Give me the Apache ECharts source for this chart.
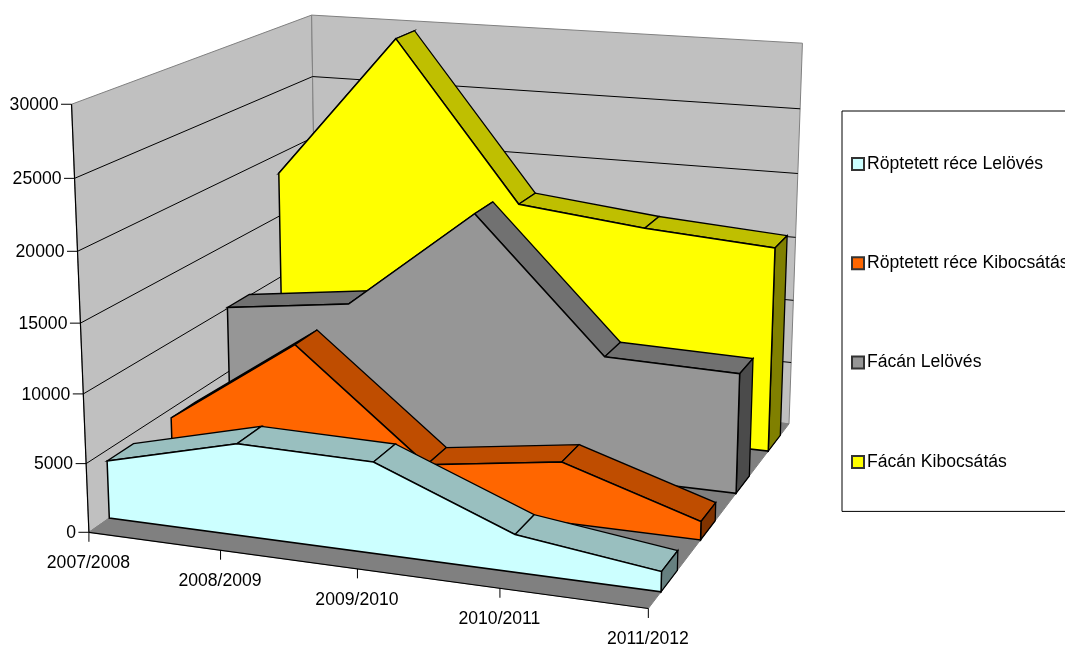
<!DOCTYPE html>
<html><head><meta charset="utf-8">
<style>html,body{margin:0;padding:0;background:#fff;overflow:hidden}#c{width:1065px;height:646px}</style>
<script src="https://cdn.jsdelivr.net/npm/echarts@6/dist/echarts.min.js"></script>
</head><body><div id="c"></div>
<script>
const seasons = ['2007/2008','2008/2009','2009/2010','2010/2011','2011/2012'];
const yTicks = [0,5000,10000,15000,20000,25000,30000];
const reczeLelo = [4220,6640,6500,2650,1400];
const reczeKibo = [4300,10900,3060,4440,1340];
const facanLelo = [10080,11300,19050,9220,8990];
const facanKibo = [18470,29750,17550,16500,15830];
const names = ['Röptetett réce Lelövés','Röptetett réce Kibocsátás','Fácán Lelövés','Fácán Kibocsátás'];
const valuesBySeries = [reczeLelo,reczeKibo,facanLelo,facanKibo];
const faceColors = ['#CCFFFF','#FF6600','#969696','#FFFF00'];
const topColors = ['#99BFBF','#BF4D00','#717171','#BFBF00'];
const endColors = ['#668080','#803300','#4B4B4B','#808000'];

// Camera calibration: known box positions (fraction across, fraction up, fraction deep) -> page pixel
const calib = [
 [0,1,0,71.5,104.5],[0,0,0,89,532],[1,0,0,648.3,608.5],[1,0,1,789,424],[1,1,1,802.7,43.5],[0,1,1,312,15],
 [0,.5,0,81,323],[1,.5,1,795,237],[0,.5,1,314,198],[0,5/6,1,312.6,76],[.25,0,0,220,550],[.5,0,0,357.5,569],
 [.75,0,0,500,588.5],[0,1/6,0,86.5,464],[0,5/6,0,74,178],[1,5/6,1,800,109],[1,1/6,1,791.7,362]
];
function solve(A,b){const n=b.length;for(let i=0;i<n;i++){let m=i;for(let r=i+1;r<n;r++)if(Math.abs(A[r][i])>Math.abs(A[m][i]))m=r;
 [A[i],A[m]]=[A[m],A[i]];[b[i],b[m]]=[b[m],b[i]];
 for(let r=i+1;r<n;r++){const f=A[r][i]/A[i][i];for(let c=i;c<n;c++)A[r][c]-=f*A[i][c];b[r]-=f*b[i];}}
 const x=new Array(n);for(let i=n-1;i>=0;i--){let s=b[i];for(let c=i+1;c<n;c++)s-=A[i][c]*x[c];x[i]=s/A[i][i];}return x;}
const M=(function(){const N=Array.from({length:11},()=>new Array(11).fill(0)),R=new Array(11).fill(0);
 function add(row,t){for(let i=0;i<11;i++){R[i]+=row[i]*t;for(let j=0;j<11;j++)N[i][j]+=row[i]*row[j];}}
 calib.forEach(([X,Y,Z,x,y])=>{add([X,Y,Z,1,0,0,0,0,-x*X,-x*Y,-x*Z],x);add([0,0,0,0,X,Y,Z,1,-y*X,-y*Y,-y*Z],y);});
 return solve(N,R);})();
function cam(u,v,w){const d=M[8]*u+M[9]*v+M[10]*w+1;return [(M[0]*u+M[1]*v+M[2]*w+M[3])/d,(M[4]*u+M[5]*v+M[6]*w+M[7])/d];}
// value space -> grid pixel through the library's axes -> page pixel through the camera
function P(params,api,i,val,w){const p=api.coord([i,val]),c=params.coordSys;return cam((p[0]-c.x)/c.width,1-(p[1]-c.y)/c.height,w);}
const font='"Liberation Sans",Arial,sans-serif', fs=17.6;
const last=seasons.length-1, vMax=yTicks[yTicks.length-1];
const poly=(points,fill,stroke,lw)=>({type:'polygon',shape:{points},style:{fill,stroke,lineWidth:lw===undefined?1.3:lw}});
const line=(a,b,stroke,lw)=>({type:'line',shape:{x1:a[0],y1:a[1],x2:b[0],y2:b[1]},style:{stroke,lineWidth:lw||1}});
const text=(s,x,y,align)=>({type:'text',style:{text:s,x,y,align,verticalAlign:'middle',fontSize:fs,fontFamily:font,fill:'#000'}});

function renderWalls(params,api){
 const p=(i,v,w)=>P(params,api,i,v,w);
 return {type:'group',children:[
  poly([p(0,0,0),p(0,vMax,0),p(0,vMax,1),p(0,0,1)],'#C0C0C0','#808080',1),
  poly([p(0,0,1),p(0,vMax,1),p(last,vMax,1),p(last,0,1)],'#C0C0C0','#808080',1),
  poly([p(0,0,0),p(last,0,0),p(last,0,1),p(0,0,1)],'#808080','#808080',1),
  line(p(0,0,0),p(last,0,0),'#000',1.2),
  line(p(0,0,0),p(0,vMax,0),'#000',1.2)
 ]};
}
function renderYTick(params,api){
 const v=api.value(1), p=(i,w)=>P(params,api,i,v,w), a=p(0,0), ch=[];
 if(v>0&&v<vMax){ch.push(line(a,p(0,1),'#000'),line(p(0,1),p(last,1),'#000'));}
 ch.push(line([a[0]-10.5,a[1]],a,'#000'),text(String(yTicks[params.dataIndex]),a[0]-13,a[1]+1,'right'));
 return {type:'group',children:ch};
}
function renderXTick(params,api){
 const a=P(params,api,api.value(0),0,0);
 return {type:'group',children:[line(a,[a[0],a[1]+9.5],'#000'),text(seasons[params.dataIndex],a[0]-.5,a[1]+31,'center')]};
}
function areaRenderer(k){
 const vals=valuesBySeries[k], wf=(k+.30)/4, wb=(k+.70)/4;
 return function(params,api){
  if(params.dataIndex!==0)return null;
  const p=(i,v,w)=>P(params,api,i,v,w), ch=[];
  for(let i=0;i<last;i++)ch.push(poly([p(i,vals[i],wf),p(i+1,vals[i+1],wf),p(i+1,vals[i+1],wb),p(i,vals[i],wb)],topColors[k],'#000'));
  ch.push(poly([p(last,vals[last],wf),p(last,vals[last],wb),p(last,0,wb),p(last,0,wf)],endColors[k],'#000'));
  const face=vals.map((v,i)=>p(i,v,wf));
  face.push(p(last,0,wf),p(0,0,wf));
  ch.push(poly(face,faceColors[k],'#000',1.5));
  return {type:'group',children:ch};
 };
}
const chart=echarts.init(document.getElementById('c'));
const series=[
 {type:'custom',name:'walls',renderItem:renderWalls,data:[[0,0]],silent:true},
 {type:'custom',name:'yTicks',renderItem:renderYTick,data:yTicks.map(v=>[0,v]),silent:true},
 {type:'custom',name:'xTicks',renderItem:renderXTick,data:seasons.map((s,i)=>[i,0]),silent:true}
];
for(let k=3;k>=0;k--)series.push({type:'custom',name:names[k],renderItem:areaRenderer(k),
 data:valuesBySeries[k].map((v,i)=>[i,v]),itemStyle:{color:faceColors[k]},silent:true});
chart.setOption({
 animation:false,
 grid:{left:0,right:0,top:0,bottom:0},
 xAxis:{type:'category',data:seasons,boundaryGap:false,show:false},
 yAxis:{type:'value',min:0,max:30000,interval:5000,show:false},
 legend:{data:names,orient:'vertical',left:842,top:111,icon:'rect',itemWidth:12,itemHeight:12,itemGap:81.3,
  padding:[44,40,40.5,9],borderColor:'#000',borderWidth:1,backgroundColor:'#fff',
  itemStyle:{borderColor:'#333',borderWidth:2},
  textStyle:{fontFamily:font,fontSize:fs,color:'#000',padding:[0,0,0,-2]},selectedMode:false},
 series
});
</script></body></html>
